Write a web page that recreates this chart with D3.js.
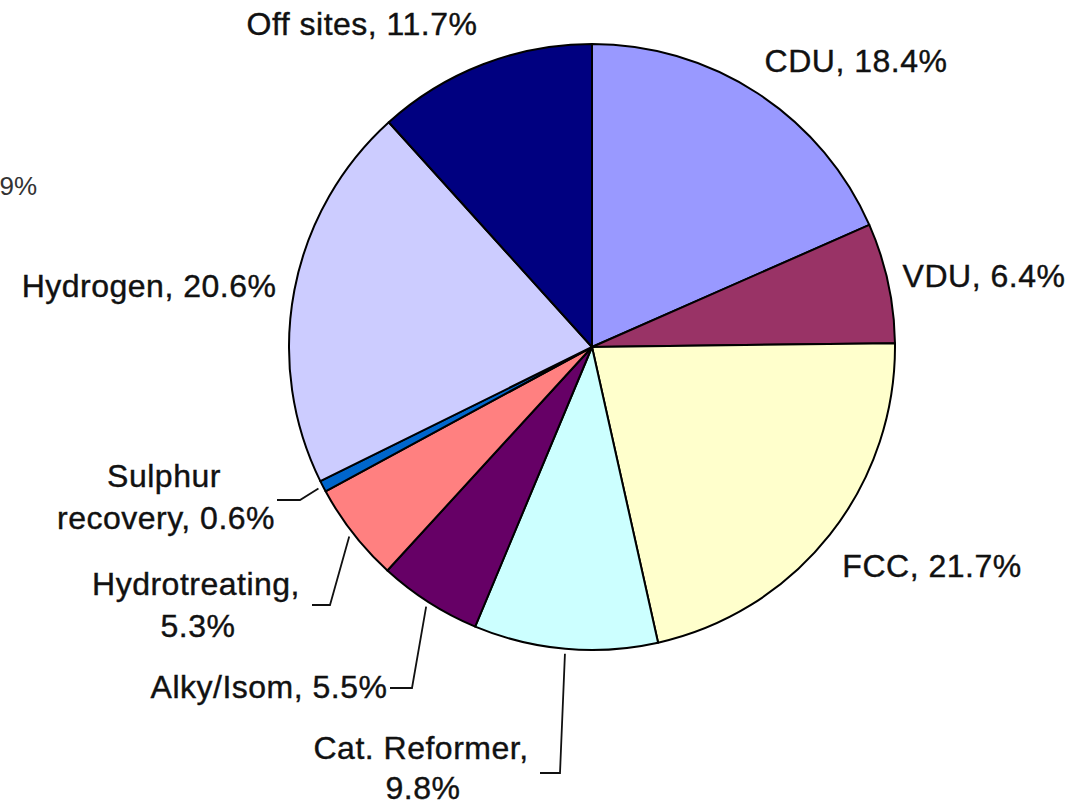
<!DOCTYPE html>
<html>
<head>
<meta charset="utf-8">
<script src="https://cdn.jsdelivr.net/npm/d3@7"></script>
<style>
  body { margin: 0; background: #fff; }
  svg text { font-family: "Liberation Sans", Arial, sans-serif; fill: #111; }
</style>
</head>
<body>
<svg id="chart" width="1071" height="807"></svg>
<script>
// slices, clockwise from 12 o'clock
const categories = ['CDU', 'VDU', 'FCC', 'Cat. Reformer', 'Alky/Isom',
  'Hydrotreating', 'Sulphur recovery', 'Hydrogen', 'Off sites'];
const shares = [18.4, 6.4, 21.7, 9.8, 5.5, 5.3, 0.6, 20.6, 11.7];
const sliceColors = ['#9999ff', '#993366', '#ffffcc', '#ccffff', '#660066',
  '#ff8080', '#0066cc', '#ccccff', '#000080'];
// label text, one entry per line
const labelLines = [
  ['CDU, 18.4%'],
  ['VDU, 6.4%'],
  ['FCC, 21.7%'],
  ['Cat. Reformer,', '9.8%'],
  ['Alky/Isom, 5.5%'],
  ['Hydrotreating,', '5.3%'],
  ['Sulphur', 'recovery, 0.6%'],
  ['Hydrogen, 20.6%'],
  ['Off sites, 11.7%'],
];

/**
* Layout (offsets from pie centre): where each label sits, and the leader
* elbow / end for the labels that have one.
*/
const layout = {
  cx: 592, cy: 347, r: 303,
  fontSize: 32, lineGap: 42,
  labels: [
    {x: 264, y: -275},
    {x: 392, y: -60},
    {x: 340, y: 230},
    {x: -171, y: 412, gap: 40, leader: [[-32, 426], [-52, 426]]},
    {x: -323, y: 351, leader: [[-180, 341], [-202, 341]]},
    {x: -396, y: 248, leader: [[-262, 258], [-280, 258]]},
    {x: -428, y: 140, leader: [[-292, 153], [-315, 153]]},
    {x: -443, y: -50},
    {x: -230, y: -312},
  ],
};

function pieChart() {
  const svg = d3.select('#chart');
  const g = svg.append('g')
      .attr('transform', 'translate(' + layout.cx + ',' + layout.cy + ')');

  const pie = d3.pie().sort(null).value(function(d) {
    return d;
  });
  const arcs = pie(shares);

  const arc = d3.arc().innerRadius(0).outerRadius(layout.r);
  const edge = d3.arc().innerRadius(layout.r + 5).outerRadius(layout.r + 5);

  g.selectAll('path.slice')
    .data(arcs)
    .enter().append('path')
      .attr('class', 'slice')
      .attr('d', arc)
      .attr('fill', function(d, i) {
        return sliceColors[i];
      })
      .attr('stroke', '#000')
      .attr('stroke-width', 2)
      .attr('stroke-linejoin', 'round');

  // leader lines
  arcs.forEach(function(d, i) {
    const lay = layout.labels[i];
    if (!lay.leader) return;
    const start = edge.centroid(d);
    const pts = [start].concat(lay.leader);
    g.append('path')
        .attr('d', d3.line()(pts))
        .attr('fill', 'none')
        .attr('stroke', '#111')
        .attr('stroke-width', 1.8);
  });

  // labels
  const lab = g.selectAll('text.label')
    .data(arcs)
    .enter().append('text')
      .attr('class', 'label')
      .attr('text-anchor', 'middle')
      .attr('font-size', layout.fontSize)
      .attr('letter-spacing', 0.5)
      .style('stroke', '#111')
      .style('stroke-width', 0.4)
      .attr('x', function(d, i) {
        return layout.labels[i].x;
      })
      .attr('y', function(d, i) {
        return layout.labels[i].y;
      });

  lab.each(function(d, i) {
    const t = d3.select(this);
    const lay = layout.labels[i];
    labelLines[i].forEach(function(line, j) {
      t.append('tspan')
          .attr('x', lay.x + (j > 0 ? 2 : 0))
          .attr('dy', j === 0 ? 0 : (lay.gap || layout.lineGap))
          .text(line);
    });
  });

  // cut-off label from a neighbouring chart at the left edge
  svg.append('text')
      .attr('x', 37)
      .attr('y', 195)
      .attr('text-anchor', 'end')
      .attr('font-size', 26)
      .style('fill', '#333')
      .text('9%');
}

pieChart();
</script>
</body>
</html>
